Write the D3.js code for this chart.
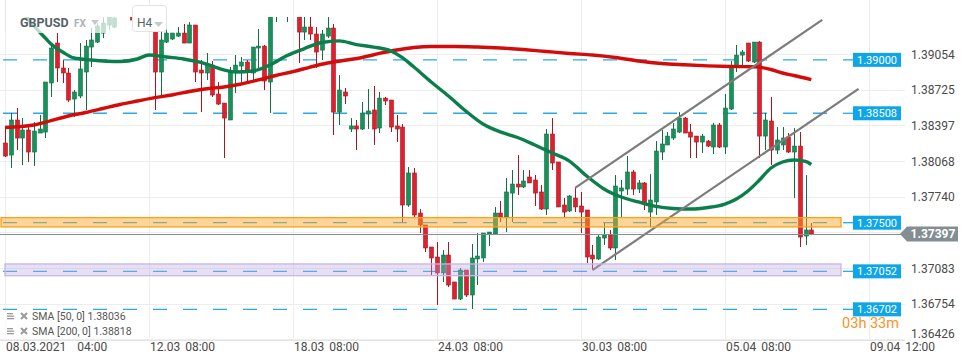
<!DOCTYPE html>
<html>
<head>
<meta charset="utf-8">
<script src="https://cdn.jsdelivr.net/npm/d3@7"></script>
<style>
  body { margin: 0; background: #fff; font-family: Roboto, "Open Sans", sans-serif; }
  svg { display: block; }
</style>
</head>
<body>
<script>
// GBPUSD H4 candles (index 0 = 08.03.2021 04:00)
var opens = [
  1.38234,1.38123,1.38446,1.38280,1.38354,1.38151,1.38326,1.38335,1.38787,1.39155,
  1.38925,1.38879,1.38639,1.38667,1.38888,1.39118,1.39164,1.39247,1.39321,1.39302,
  1.39440,1.39514,1.39459,1.39367,1.39422,1.39348,1.39275,1.38888,1.39164,1.39192,
  1.39219,1.39247,1.39155,1.39321,1.38906,1.38879,1.38952,1.38685,1.38602,1.38446,
  1.38888,1.38943,1.38980,1.38879,1.39109,1.39127,1.38796,1.39459,1.39505,1.39440,
  1.39496,1.39440,1.39256,1.39302,1.39238,1.39090,1.39219,1.39293,1.38519,1.38704,
  1.38363,1.38391,1.38363,1.38501,1.38538,1.38372,1.38648,1.38630,1.38391,1.38381,
  1.37663,1.37958,1.37589,1.37479,1.37276,1.37184,1.37037,1.37202,1.36954,1.36797,
  1.37064,1.36834,1.37166,1.37175,1.37396,1.37396,1.37589,1.37552,1.37773,1.37856,
  1.37829,1.37921,1.37893,1.37783,1.37626,1.38317,1.38059,1.37663,1.37608,1.37727,
  1.37654,1.37617,1.37202,1.37166,1.37359,1.37387,1.37267,1.37792,1.37810,1.37967,
  1.37810,1.37866,1.37598,1.37691,1.38151,1.38216,1.38280,1.38335,1.38464,1.38335,
  1.38298,1.38243,1.38252,1.38197,1.38400,1.38197,1.38547,1.38934,1.39044,1.39155,
  1.38980,1.39164,1.38298,1.38437,1.38169,1.38216,1.38289,1.38151,1.38206,1.37377,
  1.37433
];
var highs = [
  1.38372,1.38510,1.38556,1.38464,1.38381,1.38427,1.38492,1.38796,1.39155,1.39247,
  1.38998,1.38925,1.38722,1.39155,1.39183,1.39293,1.39339,1.39394,1.39477,1.39459,
  1.39551,1.39579,1.39496,1.39477,1.39459,1.39385,1.39293,1.39275,1.39321,1.39247,
  1.39302,1.39330,1.39348,1.39321,1.38998,1.39063,1.38989,1.38796,1.38602,1.38934,
  1.39044,1.39026,1.38998,1.39118,1.39284,1.39137,1.39505,1.39551,1.39597,1.39533,
  1.39569,1.39477,1.39413,1.39413,1.39302,1.39275,1.39413,1.39330,1.38860,1.38741,
  1.38464,1.38446,1.38612,1.38731,1.38759,1.38704,1.38658,1.38630,1.38492,1.38409,
  1.38013,1.38004,1.37626,1.37479,1.37276,1.37322,1.37248,1.37322,1.36954,1.37083,
  1.37064,1.37304,1.37405,1.37405,1.37414,1.37645,1.37700,1.37912,1.37985,1.38123,
  1.37985,1.37985,1.37939,1.37847,1.38363,1.38464,1.38059,1.37727,1.37755,1.37820,
  1.37783,1.37617,1.37295,1.37396,1.37497,1.37433,1.37939,1.37893,1.38114,1.37985,
  1.37893,1.37875,1.37948,1.38252,1.38354,1.38335,1.38418,1.38519,1.38473,1.38409,
  1.38298,1.38317,1.38262,1.38418,1.38418,1.38685,1.38989,1.39137,1.39090,1.39155,
  1.39164,1.39173,1.38510,1.38658,1.38381,1.38381,1.38326,1.38372,1.38335,1.37939,
  1.37497
];
var lows = [
  1.38105,1.38004,1.38169,1.38031,1.38059,1.38022,1.38326,1.38280,1.38658,1.38796,
  1.38787,1.38612,1.38473,1.38648,1.38538,1.38934,1.39155,1.39201,1.39275,1.39293,
  1.39413,1.39422,1.39321,1.39312,1.39293,1.39265,1.38538,1.38648,1.39155,1.39183,
  1.39210,1.39155,1.39155,1.38796,1.38519,1.38814,1.38658,1.38584,1.38096,1.38446,
  1.38694,1.38796,1.38787,1.38814,1.38925,1.38722,1.38510,1.39348,1.39440,1.39348,
  1.39422,1.38971,1.39183,1.39183,1.38925,1.38998,1.39201,1.38308,1.38400,1.38593,
  1.38335,1.38169,1.38354,1.38363,1.38216,1.38326,1.38584,1.38335,1.38243,1.37506,
  1.37645,1.37552,1.37405,1.37230,1.37018,1.36742,1.36954,1.36908,1.36797,1.36788,
  1.36816,1.36705,1.36926,1.37138,1.37285,1.37387,1.37506,1.37414,1.37506,1.37755,
  1.37820,1.37866,1.37654,1.37617,1.37571,1.37985,1.37645,1.37552,1.37598,1.37598,
  1.37405,1.37129,1.37064,1.37156,1.37295,1.37248,1.37156,1.37543,1.37755,1.37755,
  1.37773,1.37617,1.37460,1.37571,1.38077,1.38216,1.38262,1.38326,1.38326,1.38096,
  1.38096,1.38142,1.38197,1.38133,1.38188,1.38133,1.38538,1.38888,1.38952,1.38980,
  1.38971,1.38096,1.38169,1.38031,1.38133,1.38169,1.38142,1.37727,1.37276,1.37295,
  1.37390
];
var closes = [
  1.38114,1.38446,1.38280,1.38354,1.38151,1.38344,1.38363,1.38796,1.39109,1.38925,
  1.38879,1.38630,1.38704,1.38916,1.39127,1.39183,1.39312,1.39339,1.39422,1.39385,
  1.39505,1.39459,1.39367,1.39422,1.39348,1.39275,1.38888,1.39183,1.39247,1.39247,
  1.39247,1.39155,1.39321,1.38888,1.38879,1.38952,1.38676,1.38593,1.38464,1.38888,
  1.38952,1.38980,1.38906,1.39118,1.39127,1.38805,1.39440,1.39505,1.39551,1.39496,
  1.39459,1.39256,1.39302,1.39238,1.39072,1.39238,1.39293,1.38519,1.38722,1.38667,
  1.38391,1.38363,1.38510,1.38529,1.38363,1.38648,1.38621,1.38381,1.38363,1.37663,
  1.37958,1.37571,1.37479,1.37267,1.37175,1.37037,1.37202,1.36926,1.36797,1.37064,
  1.36834,1.37175,1.37193,1.37405,1.37414,1.37589,1.37552,1.37783,1.37856,1.37829,
  1.37884,1.37866,1.37773,1.37626,1.38317,1.38050,1.37645,1.37598,1.37746,1.37645,
  1.37598,1.37184,1.37166,1.37368,1.37387,1.37267,1.37838,1.37820,1.37967,1.37810,
  1.37866,1.37681,1.37709,1.38160,1.38225,1.38298,1.38363,1.38464,1.38326,1.38289,
  1.38243,1.38298,1.38206,1.38400,1.38197,1.38556,1.38934,1.39044,1.39072,1.38989,
  1.39164,1.38298,1.38446,1.38169,1.38262,1.38280,1.38151,1.38206,1.37368,1.37433,
  1.37397
];

// moving averages: [candle index, value]
var sma50 = [
  [3,1.39440],[4,1.39376],[5,1.39312],[6,1.39256],[7,1.39201],[8,1.39146],[10,1.39072],
  [12,1.39017],[15,1.38999],[20,1.38985],[23,1.39008],[25,1.39045],[28,1.39026],[31,1.39008],
  [34,1.38976],[36,1.38943],[38,1.38907],[40,1.38888],[43,1.38897],[46,1.38953],[49,1.39040],
  [52,1.39104],[55,1.39160],[58,1.39175],[61,1.39141],[64,1.39118],[67,1.39082],[69,1.39021],
  [71,1.38934],[74,1.38796],[77,1.38667],[80,1.38529],[83,1.38409],[86,1.38336],[89,1.38285],
  [92,1.38216],[95,1.38142],[98,1.38068],[101,1.37930],[104,1.37811],[107,1.37737],[110,1.37691],
  [113,1.37650],[116,1.37631],[119,1.37626],[122,1.37640],[125,1.37672],[127,1.37718],[129,1.37792],
  [131,1.37893],[133,1.38004],[135,1.38059],[137,1.38078],[139,1.38064],[140,1.38036]
];
var sma200 = [
  [0,1.38377],[5,1.38400],[8,1.38441],[11,1.38483],[14,1.38515],[17,1.38552],[20,1.38589],
  [23,1.38621],[26,1.38652],[29,1.38676],[32,1.38709],[35,1.38734],[38,1.38750],[41,1.38778],
  [44,1.38815],[47,1.38856],[50,1.38891],[53,1.38934],[56,1.38971],[59,1.38996],[62,1.39022],
  [65,1.39059],[68,1.39091],[71,1.39114],[74,1.39123],[78,1.39123],[82,1.39118],[86,1.39109],
  [90,1.39095],[94,1.39077],[98,1.39059],[102,1.39045],[106,1.39022],[110,1.38990],[114,1.38967],
  [118,1.38955],[122,1.38945],[126,1.38939],[130,1.38937],[133,1.38911],[135,1.38879],[137,1.38856],
  [140,1.38818]
];

// trend channel [candle index, price]
var channelUpper = [[99,1.37820],[141.9,1.39369]];
var channelLower = [[102,1.37064],[148.2,1.38732]];

var levels = [1.39000, 1.38508, 1.37500, 1.37052, 1.36702];
var zoneOrange = [1.37547, 1.37461];
var zonePurple = [1.37120, 1.37012];
var lastPrice = 1.37397;

var yTicks = [1.39054, 1.38725, 1.38397, 1.38068, 1.37740, 1.37411, 1.37083, 1.36754, 1.36426];
var xTicks = [0, 25, 50, 75, 100, 125, 150];
var xTickDates = ["08.03.2021", "12.03", "18.03", "24.03", "30.03", "05.04", "09.04"];
var xTickTimes = ["04:00", "08:00", "08:00", "08:00", "08:00", "08:00", "12:00"];

var legendRows = ["SMA [50, 0] 1.38036", "SMA [200, 0] 1.38818"];

var W = 970, H = 364;
var plotRight = 905, plotTop = 17, plotBottom = 340;

var svg = d3.select("body").append("svg").attr("width", W).attr("height", H);

var x = d3.scaleLinear().domain([0, 140]).range([5, 811.3]);
var y = d3.scaleLinear().domain([1.39054, 1.36426]).range([54, 339.3]);

var defs = svg.append("defs");
defs.append("clipPath").attr("id", "plot")
  .append("rect").attr("x", 0).attr("y", plotTop).attr("width", plotRight).attr("height", plotBottom - plotTop);
defs.append("clipPath").attr("id", "timer")
  .append("rect").attr("x", 830).attr("y", 317).attr("width", 80).attr("height", 12);

// grid
svg.append("g").selectAll("line").data(yTicks).enter().append("line")
  .attr("x1", 0).attr("x2", plotRight)
  .attr("y1", function(d){ return Math.round(y(d)) + 0.5; })
  .attr("y2", function(d){ return Math.round(y(d)) + 0.5; })
  .attr("stroke", "#ededed");
svg.append("g").selectAll("line").data(xTicks).enter().append("line")
  .attr("x1", function(d){ return Math.round(x(d)) + 0.5; })
  .attr("x2", function(d){ return Math.round(x(d)) + 0.5; })
  .attr("y1", 0).attr("y2", plotBottom)
  .attr("stroke", "#ededed");
svg.append("line").attr("x1", 0).attr("x2", plotRight).attr("y1", plotBottom + 0.5).attr("y2", plotBottom + 0.5)
  .attr("stroke", "#e4e4e4");

var plot = svg.append("g").attr("clip-path", "url(#plot)");

// blue dashed levels
plot.append("g").selectAll("line").data(levels).enter().append("line")
  .attr("x1", 0).attr("x2", 843)
  .attr("y1", function(d){ return y(d); }).attr("y2", function(d){ return y(d); })
  .attr("stroke", "#29abe2").attr("stroke-width", 1.3)
  .attr("stroke-dasharray", "14,16").attr("stroke-dashoffset", -3);

// candles
var idx = d3.range(opens.length);
var candle = plot.append("g").selectAll("g").data(idx).enter().append("g");
function up(i) { return closes[i] >= opens[i]; }
candle.append("line")
  .attr("x1", function(i){ return Math.round(x(i)) + 0.5; })
  .attr("x2", function(i){ return Math.round(x(i)) + 0.5; })
  .attr("y1", function(i){ return y(highs[i]); })
  .attr("y2", function(i){ return y(lows[i]); })
  .attr("stroke", function(i){ return up(i) ? "#0f7044" : "#a8141f"; })
  .attr("stroke-width", 1);
candle.append("rect")
  .attr("x", function(i){ return Math.round(x(i)) - 1.5; })
  .attr("width", 4)
  .attr("y", function(i){ return y(Math.max(opens[i], closes[i])); })
  .attr("height", function(i){ return Math.max(1.2, Math.abs(y(opens[i]) - y(closes[i]))); })
  .attr("fill", function(i){ return up(i) ? "#16925a" : "#e0202e"; })
  .attr("stroke", function(i){ return up(i) ? "#0f7044" : "#a8141f"; })
  .attr("stroke-width", 0.6);

// moving averages
var smaLine = d3.line()
  .x(function(d){ return x(d[0]); })
  .y(function(d){ return y(d[1]); })
  .curve(d3.curveMonotoneX);
plot.append("path").attr("d", smaLine(sma200))
  .attr("fill", "none").attr("stroke", "#d40b0b").attr("stroke-width", 3.4).attr("stroke-linejoin", "round");
plot.append("path").attr("d", smaLine(sma50))
  .attr("fill", "none").attr("stroke", "#0b7f4b").attr("stroke-width", 3.4).attr("stroke-linejoin", "round");

// channel
var straight = d3.line().x(function(d){ return x(d[0]); }).y(function(d){ return y(d[1]); });
[channelUpper, channelLower].forEach(function(c) {
  plot.append("path").attr("d", straight(c))
    .attr("fill", "none").attr("stroke", "#7c7c7c").attr("stroke-width", 2.2);
});

// zones
function zone(z, x0, fill, stroke) {
  plot.append("rect")
    .attr("x", x0).attr("width", 841 - x0)
    .attr("y", y(z[0])).attr("height", y(z[1]) - y(z[0]))
    .attr("fill", fill).attr("stroke", stroke).attr("stroke-width", 1.3);
}
zone(zoneOrange, 1, "rgba(253,168,40,0.48)", "#f7a21b");
zone(zonePurple, 5, "rgba(185,165,225,0.35)", "#c6b6e4");

// last price line
svg.append("line").attr("x1", 0).attr("x2", 902)
  .attr("y1", Math.round(y(lastPrice)) + 0.5).attr("y2", Math.round(y(lastPrice)) + 0.5)
  .attr("stroke", "#848e93").attr("stroke-width", 1);

// countdown (partly hidden under the level tag, as in the terminal)
svg.append("g").attr("clip-path", "url(#timer)")
  .append("text").attr("x", 899).attr("y", 328).attr("text-anchor", "end")
  .attr("font-size", 14.5).attr("fill", "#f7941d").text("03h 33m");

// level boxes
var boxes = svg.append("g").selectAll("g").data(levels).enter().append("g")
  .attr("transform", function(d){ return "translate(0," + y(d) + ")"; });
boxes.append("line").attr("x1", 843).attr("x2", 853).attr("y1", 0).attr("y2", 0)
  .attr("stroke", "#29abe2").attr("stroke-width", 1.3);
boxes.append("rect").attr("x", 853).attr("y", -7).attr("width", 48).attr("height", 14)
  .attr("fill", "#0fa5e9");
boxes.append("text").attr("x", 877).attr("y", 4).attr("text-anchor", "middle")
  .attr("font-size", 11).attr("fill", "#fff").text(function(d){ return d.toFixed(5); });

// right axis
var yAxis = svg.append("g").attr("transform", "translate(" + plotRight + ",0)")
  .call(d3.axisRight(y).tickValues(yTicks).tickSize(0).tickFormat(d3.format(".5f")));
yAxis.select(".domain").remove();
yAxis.selectAll("text").attr("x", 6).attr("font-size", 12).attr("fill", "#4a4a4a")
  .attr("font-family", "Roboto, sans-serif")
  .attr("dy", function(d){ return d === 1.36426 ? "-0.18em" : "0.35em"; });

// last price tag
var ly = y(lastPrice);
svg.append("path")
  .attr("d", "M900," + ly + " L907," + (ly - 7.5) + " L958," + (ly - 7.5) + " L958," + (ly + 7.5) + " L907," + (ly + 7.5) + " Z")
  .attr("fill", "#838d92");
svg.append("text").attr("x", 933).attr("y", ly + 4.3).attr("text-anchor", "middle")
  .attr("font-size", 12).attr("font-weight", "bold").attr("fill", "#fff").text(lastPrice.toFixed(5));

// bottom labels
var xl = svg.append("g").selectAll("text").data(xTicks).enter().append("text")
  .attr("x", function(d){ return Math.round(x(d)) + 1; })
  .attr("y", 351).attr("font-size", 12).attr("fill", "#4a4a4a");
xl.append("tspan").text(function(d, i){ return xTickDates[i]; });
xl.append("tspan").attr("dx", function(d, i){ return i === 0 ? 11 : 5; })
  .text(function(d, i){ return xTickTimes[i]; });

// legend
var lg = svg.append("g");
lg.append("rect").attr("x", 2).attr("y", 312).attr("width", 130).attr("height", 27)
  .attr("fill", "#fff").attr("opacity", 0.75);
legendRows.forEach(function(t, k) {
  var yy = 316 + k * 15;
  [0, 2.5, 5].forEach(function(o) {
    lg.append("rect").attr("x", 7).attr("y", yy - 3 + o).attr("width", o === 0 ? 6 : 7).attr("height", 1.3)
      .attr("fill", "#9a9a9a");
  });
  lg.append("path").attr("d", "M21," + (yy - 3) + "L27," + (yy + 3) + "M27," + (yy - 3) + "L21," + (yy + 3))
    .attr("stroke", "#9a9a9a").attr("stroke-width", 2);
  lg.append("text").attr("x", 32).attr("y", yy + 4).attr("font-size", 10.5).attr("fill", "#555")
    .text(t);
});

// header
svg.append("rect").attr("x", 6).attr("y", 0).attr("width", 120).attr("height", 33)
  .attr("fill", "#fff").attr("opacity", 0.72);
svg.append("line").attr("x1", 5.5).attr("x2", 5.5).attr("y1", 0).attr("y2", 33).attr("stroke", "#e6e6e6");
svg.append("text").attr("x", 20).attr("y", 27).attr("font-size", 12.5).attr("font-weight", "bold")
  .attr("fill", "#56626a").text("GBPUSD");
svg.append("text").attr("x", 74).attr("y", 27).attr("font-size", 10).attr("font-weight", "bold")
  .attr("fill", "#aab2b8").text("FX");
svg.append("path").attr("d", "M91,20 L99,20 L95,25 Z").attr("fill", "#c3c9cd");
svg.append("rect").attr("x", 132.5).attr("y", 5.5).attr("width", 34).attr("height", 26).attr("rx", 3)
  .attr("fill", "#fff").attr("stroke", "#e1e4e6");
svg.append("text").attr("x", 137).attr("y", 27).attr("font-size", 12)
  .attr("fill", "#56626a").text("H4");
svg.append("path").attr("d", "M154,22 L163,22 L158.5,27 Z").attr("fill", "#c3c9cd");
</script>
</body>
</html>
